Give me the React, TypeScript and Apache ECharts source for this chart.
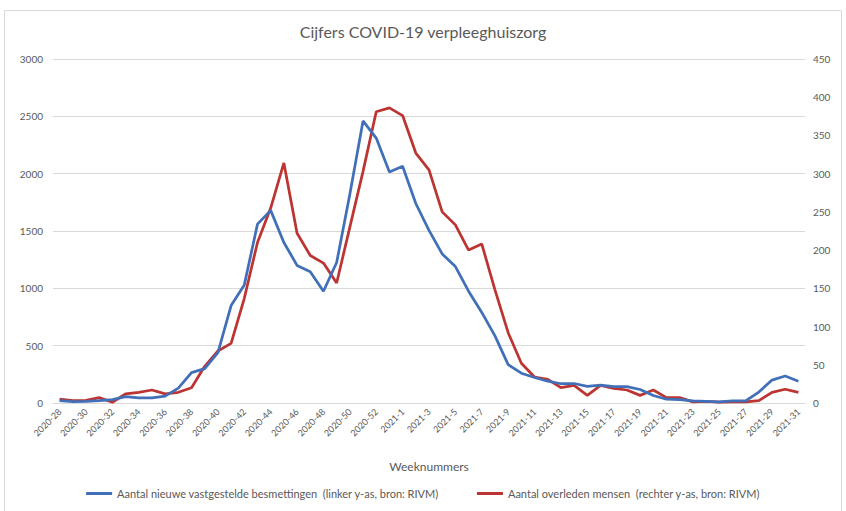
import React, { useEffect, useRef } from "react";
import * as echarts from "echarts";

const weeks: string[] = [
  "2020-28", "2020-29", "2020-30", "2020-31", "2020-32", "2020-33", "2020-34", "2020-35", "2020-36", "2020-37",
  "2020-38", "2020-39", "2020-40", "2020-41", "2020-42", "2020-43", "2020-44", "2020-45", "2020-46", "2020-47",
  "2020-48", "2020-49", "2020-50", "2020-51", "2020-52", "2020-53",
  "2021-1", "2021-2", "2021-3", "2021-4", "2021-5", "2021-6", "2021-7", "2021-8", "2021-9", "2021-10",
  "2021-11", "2021-12", "2021-13", "2021-14", "2021-15", "2021-16", "2021-17", "2021-18", "2021-19", "2021-20",
  "2021-21", "2021-22", "2021-23", "2021-24", "2021-25", "2021-26", "2021-27", "2021-28", "2021-29", "2021-30",
  "2021-31",
];

const infections: number[] = [
  20, 12, 15, 20, 30, 55, 45, 45, 60, 130,
  265, 300, 440, 850, 1030, 1560, 1680, 1400, 1200, 1145,
  975, 1225, 1820, 2460, 2310, 2015,
  2065, 1740, 1505, 1300, 1190, 975, 790, 585, 335, 260,
  222, 190, 168, 170, 145, 155, 143, 143, 118, 65,
  33, 29, 18, 15, 10, 18, 18, 95, 200, 235,
  190,
];

const deaths: number[] = [
  5, 3, 3.5, 7, 1, 12, 14, 17, 12, 14,
  20, 48, 68, 78, 137, 210, 255, 314, 222, 193,
  183, 157, 230, 303, 381, 386,
  376, 327, 305, 250, 233, 200, 208, 148, 92, 52,
  34, 31, 20, 23, 10, 23, 19, 17, 10, 17,
  7, 7, 1.5, 2, 1, 1.5, 1.5, 3, 14, 18,
  14,
];

const titleText = "Cijfers COVID-19 verpleeghuiszorg";
const xAxisTitle = "Weeknummers";
const seriesNames = [
  "Aantal nieuwe vastgestelde besmettingen  (linker y-as, bron: RIVM)",
  "Aantal overleden mensen  (rechter y-as, bron: RIVM)",
];

const FONT = "Lato, 'Open Sans', sans-serif";
const TXT = "#595959";
const BLUE = "#4170B8";
const RED = "#BC3533";

export default function App() {
  const ref = useRef<HTMLDivElement>(null);
  useEffect(() => {
    if (!ref.current) return;
    const chart = echarts.init(ref.current, undefined, { renderer: "svg" });
    chart.setOption({
      animation: false,
      backgroundColor: "#ffffff",
      textStyle: { fontFamily: FONT },
      graphic: [
        {
          type: "rect",
          shape: { x: 4.5, y: 10.5, width: 837, height: 520 },
          style: { fill: "none", stroke: "#d9d9d9", lineWidth: 1 },
          silent: true,
        },
      ],
      title: {
        text: titleText,
        left: "center",
        top: 18,
        textStyle: { fontFamily: FONT, fontSize: 16, fontWeight: "normal", color: TXT },
      },
      legend: {
        bottom: 7,
        left: "center",
        icon: "rect",
        itemWidth: 26,
        itemHeight: 3,
        itemGap: 38,
        textStyle: { fontFamily: FONT, fontSize: 11, color: TXT },
        data: seriesNames,
      },
      grid: { left: 53, right: 41, top: 59, bottom: 108, containLabel: false },
      xAxis: {
        type: "category",
        data: weeks,
        boundaryGap: true,
        name: xAxisTitle,
        nameLocation: "middle",
        nameGap: 57,
        nameTextStyle: { fontFamily: FONT, fontSize: 12, color: TXT },
        axisLine: { show: true, lineStyle: { color: "#d9d9d9", width: 1 } },
        axisTick: { show: false },
        axisLabel: {
          interval: 1,
          rotate: 45,
          margin: 7,
          fontFamily: FONT,
          fontSize: 9,
          color: TXT,
        },
        splitLine: { show: false },
      },
      yAxis: [
        {
          type: "value",
          min: 0,
          max: 3000,
          interval: 500,
          axisLine: { show: false },
          axisTick: { show: false },
          axisLabel: {
            margin: 10,
            fontFamily: FONT,
            fontSize: 10,
            color: TXT,
            formatter: (v: number) => String(v),
          },
          splitLine: { show: true, lineStyle: { color: "#d9d9d9", width: 1 } },
        },
        {
          type: "value",
          min: 0,
          max: 450,
          interval: 50,
          position: "right",
          axisLine: { show: false },
          axisTick: { show: false },
          axisLabel: {
            margin: 8,
            fontFamily: FONT,
            fontSize: 10,
            color: TXT,
            formatter: (v: number) => String(v),
          },
          splitLine: { show: false },
        },
      ],
      series: [
        {
          name: seriesNames[0],
          type: "line",
          yAxisIndex: 0,
          data: infections,
          symbol: "none",
          lineStyle: { color: BLUE, width: 2.75 },
          itemStyle: { color: BLUE },
          z: 3,
        },
        {
          name: seriesNames[1],
          type: "line",
          yAxisIndex: 1,
          data: deaths,
          symbol: "none",
          lineStyle: { color: RED, width: 2.75 },
          itemStyle: { color: RED },
          z: 2,
        },
      ],
    });
    return () => chart.dispose();
  }, []);
  return (
    <div
      ref={ref}
      style={{ position: "fixed", left: 0, top: 0, width: 846, height: 511 }}
    />
  );
}
